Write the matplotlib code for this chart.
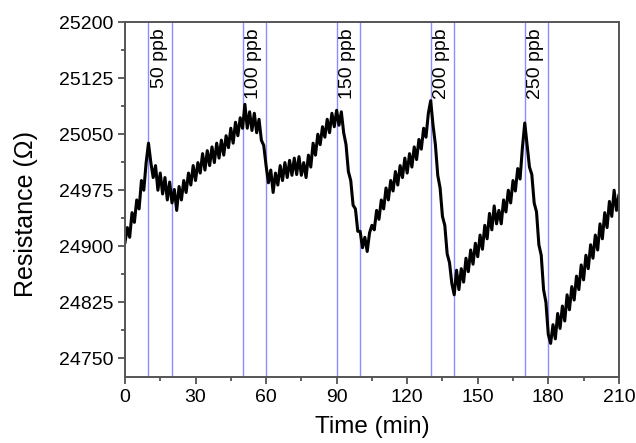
import numpy as np
import matplotlib
matplotlib.use('Agg')
import matplotlib.pyplot as plt
from matplotlib.ticker import MultipleLocator

plt.rcParams['font.family'] = ['Liberation Sans', 'DejaVu Sans']

# time in minutes, one reading per minute
time = np.arange(0, 211, 1)
resistance = [
    24905, 24925, 24912, 24945, 24932, 24962, 24950, 24988, 24975, 25012,
    25038, 25012, 24992, 25008, 24975, 24998, 24970, 24992, 24962, 24986,
    24958, 24976, 24948, 24980, 24962, 24988, 24972, 24998, 24982, 25008,
    24988, 25012, 24998, 25024, 25002, 25028, 25008, 25033, 25012, 25038,
    25018, 25042, 25022, 25048, 25032, 25058, 25038, 25066, 25048, 25072,
    25058, 25090, 25058, 25080, 25055, 25078, 25052, 25070, 25042, 25035,
    25008, 24985, 25002, 24972, 24998, 24982, 25008, 24988, 25012, 24992,
    25015, 24995, 25018, 24996, 25020, 24995, 25012, 24992, 25022, 25006,
    25038, 25022, 25050, 25036, 25060, 25046, 25070, 25052, 25078, 25060,
    25082, 25062, 25080, 25052, 25036, 25000, 24988, 24955, 24950, 24920,
    24920, 24898, 24912, 24893, 24918, 24928, 24922, 24948, 24936, 24962,
    24950, 24978, 24962, 24988, 24974, 25000, 24982, 25008, 24992, 25018,
    24998, 25024, 25006, 25033, 25016, 25043, 25030, 25058, 25046, 25078,
    25095, 25062, 25036, 24995, 24978, 24940, 24928, 24890, 24878, 24850,
    24835, 24868, 24842, 24870, 24852, 24884, 24866, 24895, 24876, 24904,
    24886, 24915, 24896, 24928, 24910, 24944, 24922, 24954, 24930, 24948,
    24930, 24962, 24946, 24975, 24958, 24988, 24974, 25004, 24990, 25032,
    25065, 25035, 25006, 24996, 24958, 24946, 24902, 24888, 24842, 24825,
    24782, 24770, 24795, 24776, 24810, 24790, 24820, 24800, 24835, 24815,
    24846, 24828, 24860, 24842, 24875, 24855, 24888, 24870, 24902, 24884,
    24915, 24895, 24930, 24910, 24945, 24925, 24960, 24940, 24975, 24948,
    24968,
]

# gas on / gas off times and concentrations
gas_on = [10, 50, 90, 130, 170]
gas_off = [20, 60, 100, 140, 180]
conc = ['50 ppb', '100 ppb', '150 ppb', '200 ppb', '250 ppb']

fig = plt.figure(figsize=(6.36, 4.43), dpi=100)
ax = fig.add_axes([0.1965, 0.149, 0.7765, 0.801])

for on, off, c in zip(gas_on, gas_off, conc):
    ax.axvline(on, color='#8c8cff', lw=1.0, zorder=1)
    ax.axvline(off, color='#8c8cff', lw=1.0, zorder=1)
    ax.text(on + 1.1, 25192, c, rotation=90, ha='left', va='top', fontsize=14)

ax.plot(time, resistance, color='black', lw=2.2, zorder=2)

ax.set_xlim(0, 210)
ax.set_ylim(24725, 25200)
ax.xaxis.set_major_locator(MultipleLocator(30))
ax.xaxis.set_minor_locator(MultipleLocator(15))
ax.yaxis.set_minor_locator(MultipleLocator(37.5))
ax.set_yticks(np.arange(24750, 25201, 75))

ax.tick_params(which='both', direction='out', top=False, right=False,
               color='#444444', width=1.2)
ax.tick_params(which='major', length=5, labelsize=14)
ax.tick_params(which='minor', length=3)
for s in ax.spines.values():
    s.set_color('#555555')
    s.set_linewidth(1.4)

ax.set_xlabel('Time (min)', fontsize=17.5, labelpad=7)
ax.set_ylabel('Resistance (Ω)', fontsize=18)
ax.yaxis.set_label_coords(-0.176, 0.46)

fig.savefig('out.png', dpi=100)
